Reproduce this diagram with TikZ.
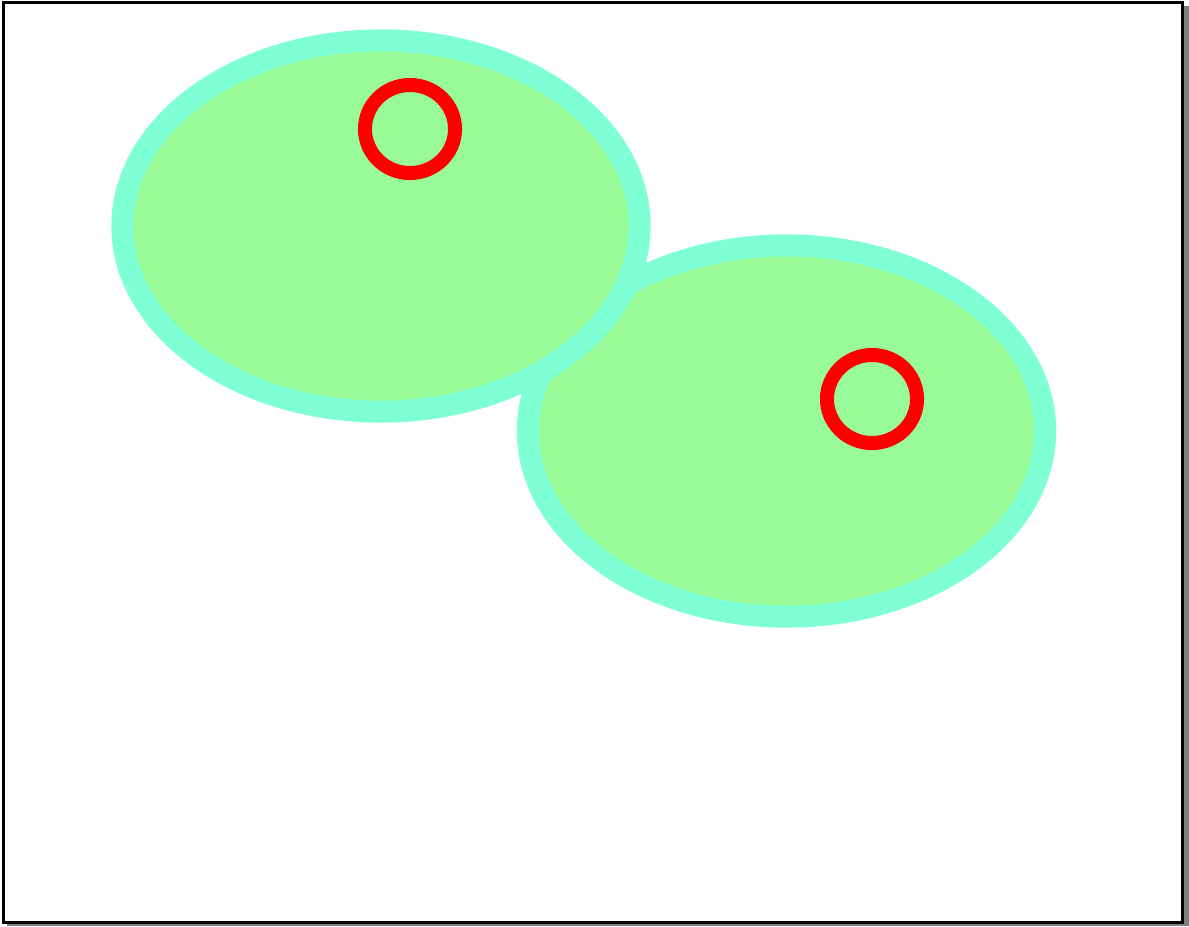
\documentclass[tikz,border=0pt]{standalone}
\usepackage{tikz}
\usetikzlibrary{shapes.geometric}
\definecolor{cellrim}{RGB}{127,255,212}
\definecolor{cellbody}{RGB}{152,251,152}
\definecolor{dotred}{RGB}{255,0,0}
\tikzset{
    frame/.style={draw=black, fill=white, line width=0.03cm},
    frameshadow/.style={fill=gray, draw=none},
    cell/.style={ellipse, draw=cellrim, fill=cellbody, line width=0.22cm, inner sep=0pt, minimum width=5.17cm, minimum height=3.71cm},
    ring/.style={ellipse, draw=dotred, line width=0.14cm, inner sep=0pt, minimum width=0.90cm, minimum height=0.88cm}
}
\begin{document}
\begin{tikzpicture}[x=0.01cm, y=-0.01cm]
    \useasboundingbox (0,0) rectangle (1189,926);
    \fill[frameshadow] (7,6) rectangle (1189,926);
    \draw[frame] (3.5,2.5) rectangle (1182.5,922);

    \node[cell] (c2) at (786.5,431) {};
    \node[cell] (c1) at (381,226) {};

    \node[ring] (r1) at (410,129) {};
    \node[ring] (r2) at (872,399) {};
\end{tikzpicture}
\end{document}
